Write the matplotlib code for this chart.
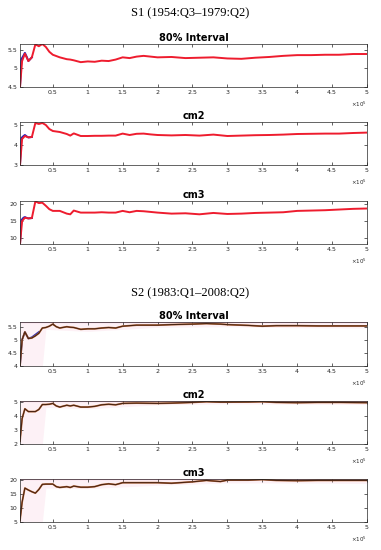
import matplotlib
matplotlib.use("Agg")
import matplotlib.pyplot as plt
from matplotlib.ticker import FuncFormatter

# --- Data (x in units of 1e5 draws) ---
x_s1 = [0.03, 0.06, 0.1, 0.15, 0.2, 0.25, 0.3, 0.35, 0.4, 0.45, 0.5, 0.6, 0.7, 0.75, 0.8,
        0.9, 1.0, 1.1, 1.2, 1.3, 1.4, 1.5, 1.6, 1.7, 1.8, 1.9, 2.0, 2.2, 2.4, 2.6, 2.8,
        3.0, 3.2, 3.4, 3.6, 3.8, 4.0, 4.2, 4.4, 4.6, 4.8, 5.0]
s1_int = [4.5, 5.2, 5.4, 5.2, 5.3, 5.65, 5.6, 5.66, 5.58, 5.45, 5.37, 5.3, 5.25, 5.24, 5.22,
          5.17, 5.19, 5.18, 5.21, 5.2, 5.24, 5.3, 5.28, 5.32, 5.34, 5.32, 5.3, 5.31, 5.28, 5.29, 5.3,
          5.27, 5.26, 5.29, 5.31, 5.34, 5.36, 5.36, 5.37, 5.37, 5.39, 5.39]
s1_cm2 = [3.0, 4.3, 4.45, 4.38, 4.4, 5.1, 5.05, 5.1, 5.0, 4.8, 4.7, 4.65, 4.55, 4.47, 4.58,
          4.45, 4.45, 4.46, 4.46, 4.47, 4.47, 4.57, 4.5, 4.56, 4.57, 4.53, 4.5, 4.48, 4.5, 4.47, 4.52,
          4.45, 4.47, 4.49, 4.5, 4.52, 4.55, 4.56, 4.57, 4.57, 4.6, 4.62]
s1_cm3 = [8.3, 15.0, 16.0, 15.8, 15.9, 20.8, 20.3, 20.4, 19.5, 18.5, 18.0, 18.0, 17.2, 17.0, 18.1,
          17.5, 17.5, 17.5, 17.6, 17.5, 17.5, 18.0, 17.6, 18.0, 17.9, 17.7, 17.5, 17.2, 17.3, 17.0, 17.4,
          17.1, 17.2, 17.4, 17.5, 17.6, 18.0, 18.1, 18.2, 18.4, 18.6, 18.7]
x_s1_blue = [0.03, 0.05, 0.08, 0.1, 0.13, 0.15, 0.2]
s1_int_blue = [4.5, 5.25, 5.35, 5.42, 5.3, 5.2, 5.3]
s1_cm2_blue = [3.0, 4.35, 4.45, 4.5, 4.42, 4.38, 4.4]
s1_cm3_blue = [8.3, 15.3, 16.0, 16.2, 15.9, 15.8, 15.9]

x_s2 = [0.03, 0.06, 0.1, 0.15, 0.2, 0.25, 0.3, 0.35, 0.4, 0.45, 0.5, 0.55, 0.6, 0.7, 0.75, 0.8,
        0.9, 1.0, 1.1, 1.2, 1.3, 1.4, 1.5, 1.7, 2.0, 2.2, 2.5, 2.7, 2.9, 3.0, 3.3, 3.5, 3.7,
        4.0, 4.3, 4.6, 5.0]
s2_int = [4.0, 5.0, 5.3, 5.05, 5.07, 5.15, 5.25, 5.45, 5.47, 5.52, 5.6, 5.5, 5.45, 5.5, 5.48, 5.47,
          5.4, 5.42, 5.42, 5.45, 5.47, 5.45, 5.52, 5.56, 5.56, 5.58, 5.6, 5.62, 5.6, 5.58, 5.55, 5.52, 5.54,
          5.54, 5.53, 5.53, 5.53]
s2_cm2 = [2.2, 3.8, 4.5, 4.3, 4.3, 4.3, 4.45, 4.8, 4.8, 4.82, 4.88, 4.7, 4.62, 4.75, 4.7, 4.75,
          4.62, 4.62, 4.67, 4.78, 4.82, 4.78, 4.88, 4.9, 4.88, 4.9, 4.95, 5.0, 4.97, 4.97, 4.98, 5.0, 4.95,
          4.93, 4.95, 4.95, 4.93]
s2_cm3 = [5.5, 12.0, 17.0, 16.3, 15.7, 15.2, 16.5, 18.3, 18.4, 18.4, 18.4, 17.5, 17.2, 17.5, 17.2, 17.7,
          17.3, 17.3, 17.5, 18.2, 18.5, 18.2, 18.9, 18.9, 18.9, 18.7, 19.2, 19.7, 19.3, 19.8, 19.8, 20.0, 19.7,
          19.6, 19.7, 19.7, 19.7]

# pink interval band for S2 (lower edge; upper edge sits above the axes)
x_band = [0.03, 0.35, 0.4, 1.0, 2.0, 3.0, 4.0, 5.0]
s2_int_lo = [4.0, 4.0, 5.4, 5.32, 5.48, 5.5, 5.46, 5.45]
s2_cm2_lo = [2.0, 2.0, 4.6, 4.5, 4.78, 4.85, 4.82, 4.8]
s2_cm3_lo = [5.0, 5.0, 17.0, 16.8, 18.0, 18.8, 18.8, 18.6]
s2_int_blue = [4.0, 5.0, 5.3, 5.05, 5.1, 5.2, 5.3]
x_s2_blue = [0.03, 0.06, 0.1, 0.15, 0.2, 0.25, 0.3]

titles = ["80% Interval", "cm2", "cm3"]
ylims = [(4.5, 5.66), (3, 5.15), (8.3, 20.9), (4, 5.68), (2, 5.05), (5, 20.2)]
yticks = [[4.5, 5, 5.5], [3, 4, 5], [10, 15, 20], [4, 4.5, 5, 5.5], [2, 3, 4, 5], [5, 10, 15, 20]]
xticks = [0.5, 1, 1.5, 2, 2.5, 3, 3.5, 4, 4.5, 5]

# --- Layout (pixel rows of axes top/bottom) ---
W, H = 381, 550
rows = [(44, 87), (122, 165), (201, 244), (322, 366), (401, 444), (479, 522)]
left, right = 20, 367

fig = plt.figure(figsize=(W / 100, H / 100), dpi=100)
fig.text(0.5, 1 - 13 / H, "S1 (1954:Q3\u20131979:Q2)", ha="center", va="center",
         family="Liberation Serif", fontsize=9)
fig.text(0.5, 1 - 293 / H, "S2 (1983:Q1\u20132008:Q2)", ha="center", va="center",
         family="Liberation Serif", fontsize=9)

fmt = FuncFormatter(lambda v, p: f"{v / 1e5:g}")
axes = []
for i, (top, bot) in enumerate(rows):
    ax = fig.add_axes([left / W, 1 - bot / H, (right - left) / W, (bot - top) / H])
    axes.append(ax)
    ax.set_xlim(0.03e5, 5e5)
    ax.set_ylim(*ylims[i])
    ax.set_yticks(yticks[i])
    ax.set_xticks([t * 1e5 for t in xticks])
    ax.xaxis.set_major_formatter(fmt)
    ax.yaxis.set_major_formatter(FuncFormatter(lambda v, p: f"{v:g}"))
    ax.tick_params(direction="in", length=2, width=0.5, labelsize=4.5, pad=2,
                   top=True, right=True, colors="#262626")
    for s in ax.spines.values():
        s.set_linewidth(0.5)
        s.set_color("#262626")
    ax.set_title(titles[i % 3], fontsize=7, fontweight="bold", pad=2.5)
    ax.text(1.0, -0.3, r"$\times10^5$", transform=ax.transAxes, ha="right", va="top",
            fontsize=4, color="#262626")

s1 = [(s1_int, s1_int_blue), (s1_cm2, s1_cm2_blue), (s1_cm3, s1_cm3_blue)]
for ax, (red, blue) in zip(axes[:3], s1):
    ax.plot([v * 1e5 for v in x_s1_blue], blue, color="#2020c0", lw=1.4)
    ax.plot([v * 1e5 for v in x_s1], red, color="#ee1c2e", lw=1.4)

s2 = [(s2_int, s2_int_lo), (s2_cm2, s2_cm2_lo), (s2_cm3, s2_cm3_lo)]
for k, (ax, (line, lo)) in enumerate(zip(axes[3:], s2)):
    ytop = ylims[3 + k][1] + 1
    xb = [v * 1e5 for v in x_band]
    ax.fill_between(xb, lo, [ytop] * len(xb), color="#fdf1f6", lw=0, zorder=0)
    ax.axhline(ylims[3 + k][1], color="#f4b8d2", lw=0.9, zorder=1)
    if k == 0:
        ax.plot([v * 1e5 for v in x_s2_blue], s2_int_blue, color="#2a2ab0", lw=1.2)
    ax.plot([v * 1e5 for v in x_s2], line, color="#c07040", lw=1.3)
    ax.plot([v * 1e5 for v in x_s2], line, color="#4a2412", lw=0.8)

fig.savefig("out.png", dpi=100)
